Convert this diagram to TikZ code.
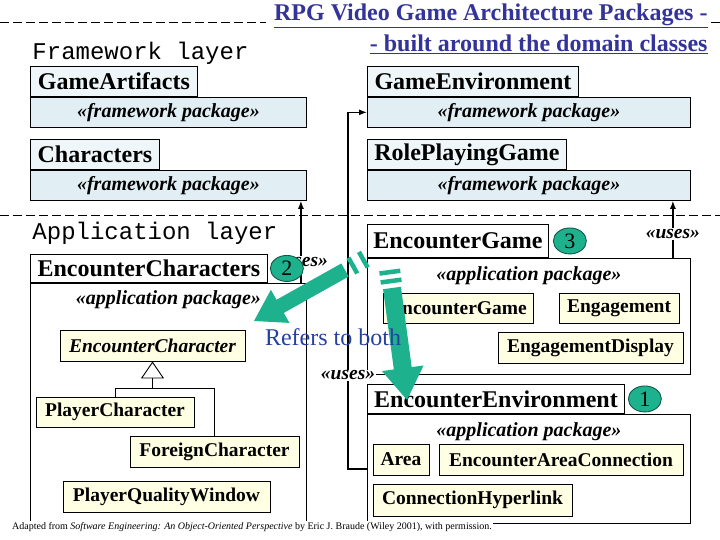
\documentclass[tikz,border=0pt]{standalone}
\usepackage{fontspec}
\setmainfont{Liberation Serif}
\setmonofont{Liberation Mono}
\usepackage{tikz}
\usetikzlibrary{positioning,arrows.meta,calc,shapes.geometric}
\definecolor{rpgBlue}{HTML}{333399}
\definecolor{rpgNote}{HTML}{2440A0}
\definecolor{rpgGreen}{HTML}{1DB28D}
\definecolor{rpgFwTab}{HTML}{EEF6F9}
\definecolor{rpgFwBody}{HTML}{E1EFF5}
\definecolor{rpgClass}{HTML}{FFFFE3}
\tikzset{
  pkgTab/.style={draw, fill=white, anchor=north west, inner sep=0pt, minimum height=29pt, font=\fontsize{24}{25}\selectfont\bfseries},
  pkgTabFw/.style={pkgTab, fill=rpgFwTab, minimum height=30pt},
  fwBody/.style={draw, fill=rpgFwBody, anchor=north west, inner sep=0pt, minimum width=276pt, minimum height=30pt, font=\fontsize{20}{20}\selectfont\bfseries\itshape},
  appBody/.style={draw, fill=white, anchor=north west, inner sep=0pt, minimum width=323pt},
  stereoText/.style={inner sep=1pt, font=\fontsize{20}{20}\selectfont\bfseries\itshape},
  classBox/.style={draw, fill=rpgClass, inner sep=0pt, minimum height=31pt, font=\fontsize{19.5}{20}\selectfont\bfseries},
  abstractClass/.style={classBox, font=\fontsize{19.5}{20}\selectfont\bfseries\itshape},
  usesArrow/.style={-{Latex[length=8pt,width=6pt]}, line width=1.3pt},
  usesLabel/.style={fill=white, inner sep=1pt, font=\fontsize{19.5}{20}\selectfont\bfseries\itshape},
  orderMark/.style={ellipse, draw=rpgGreen!50!black, fill=rpgGreen, minimum width=33pt, minimum height=26pt, inner sep=0pt, font=\fontsize{22}{22}\selectfont},
  layerLine/.style={dash pattern=on 9pt off 4pt},
  layerLabel/.style={anchor=west, inner sep=0pt, font=\fontsize{24}{24}\selectfont\ttfamily},
  titleText/.style={align=right, inner sep=0pt, text=rpgBlue, font=\fontsize{24}{31}\selectfont\bfseries},
  noteText/.style={inner sep=0pt, text=rpgNote, font=\fontsize{24}{24}\selectfont},
  creditText/.style={fill=white, inner sep=1.5pt, font=\fontsize{10}{10}\selectfont}
}

\begin{document}
\begin{tikzpicture}[x=1pt, y=-1pt, line width=0.9pt]
  \useasboundingbox (0,0) rectangle (720,540);

  % layers
  \draw[layerLine] (0,22) -- (266,22);
  \draw[layerLine] (711,22) -- (720,22);
  \draw[layerLine] (0,215) -- (720,215);
  \node[titleText, anchor=north east] (title) at (708,3) {\underline{RPG Video Game Architecture Packages -}\\\underline{- built around the domain classes}};
  \node[layerLabel] (fwLayer) at (32,53) {Framework layer};
  \node[layerLabel] (appLayer) at (32,233) {Application layer};

  % framework packages
  \node[pkgTabFw, minimum width=167pt] (artTab) at (30,66) {GameArtifacts};
  \node[fwBody] (artBody) at (artTab.south west) {«framework package»};
  \node[pkgTabFw, minimum width=211pt] (envFwTab) at (367,66) {GameEnvironment};
  \node[fwBody, minimum width=323pt] (envFwBody) at (envFwTab.south west) {«framework package»};
  \node[pkgTabFw, minimum width=129pt] (charsTab) at (30,139) {Characters};
  \node[fwBody] (charsBody) at (charsTab.south west) {«framework package»};
  \node[pkgTabFw, minimum width=199pt] (rpgTab) at (367,139) {RolePlayingGame};
  \node[fwBody, minimum width=323pt] (rpgBody) at (rpgTab.south west) {«framework package»};

  % application packages
  \node[pkgTab, minimum width=237pt, minimum height=28pt] (encCharTab) at (30,254) {EncounterCharacters};
  \node[appBody, minimum width=276pt, minimum height=240pt] (encCharBody) at (encCharTab.south west) {};
  \node[pkgTab, minimum width=181pt, minimum height=33pt] (encGameTab) at (367,224) {EncounterGame};
  \node[appBody, minimum height=116pt] (encGameBody) at (encGameTab.south west) {};
  \node[pkgTab, minimum width=257pt] (encEnvTab) at (367,384) {EncounterEnvironment};
  \node[appBody, minimum height=109pt] (encEnvBody) at (encEnvTab.south west) {};

  \node[stereoText] (encCharStereo) at ($(encCharBody.north)+(0,17)$) {«application package»};
  \node[stereoText] (encGameStereo) at ($(encGameBody.north)+(0,18)$) {«application package»};
  \node[stereoText] (encEnvStereo) at ($(encEnvBody.north)+(0,18)$) {«application package»};

  % classes
  \node[abstractClass, minimum width=185pt] (encCharClass) at (152.5,345.5) {EncounterCharacter};
  \node[classBox, minimum width=158pt, minimum height=30pt] (playerChar) at (115,412) {PlayerCharacter};
  \node[classBox, minimum width=169pt] (foreignChar) at (214.5,451.5) {ForeignCharacter};
  \node[classBox, minimum width=207pt] (qualityWin) at (166.5,496.5) {PlayerQualityWindow};
  \node[classBox, minimum width=150pt, minimum height=30pt] (gameClass) at (458,308) {EncounterGame};
  \node[classBox, minimum width=120pt, minimum height=30pt] (engagement) at (619,308) {Engagement};
  \node[classBox, minimum width=185pt] (engDisplay) at (590.5,347.5) {EngagementDisplay};
  \node[classBox, minimum width=56pt] (area) at (401,459.5) {Area};
  \node[classBox, minimum width=244pt] (areaConn) at (561,459.5) {EncounterAreaConnection};
  \node[classBox, minimum width=199pt, minimum height=32pt] (hyperlink) at (472.5,500) {ConnectionHyperlink};

  \coordinate (inheritJoin) at ($(encCharClass.south)+(0,27)$);
  \draw (playerChar.north) |- (inheritJoin) -| (foreignChar.north);
  \draw[-{Triangle[open, length=17pt, width=23pt]}] (inheritJoin) -- (encCharClass.south);

  % uses dependencies
  \draw[usesArrow] ([xshift=-6pt]encCharBody.north east) -- node[usesLabel, pos=0.26]{«uses»} ([xshift=-6pt]charsBody.south east);
  \draw[usesArrow] (encEnvBody.west) -- ++(-19,0) |- node[usesLabel, pos=0.131]{«uses»} (envFwBody.west);
  \draw[usesArrow] ([xshift=-18pt]encGameBody.north east) -- node[usesLabel, pos=0.42]{«uses»} ([xshift=-18pt]rpgBody.south east);

  \node[orderMark, right=2pt of encCharTab] (markTwo) {2};
  \node[orderMark, right=4pt of encGameTab] (markThree) {3};
  \node[orderMark, right=3pt of encEnvTab] (markOne) {1};

  % green pointers
  \coordinate (arrowOneTail) at (345,270);
  \coordinate (arrowOneTip) at (254,321);
  \coordinate (arrowTwoTail) at (392,288);
  \coordinate (arrowTwoTip) at (407,400);
  \foreach \tail/\tip/\shaft/\head/\hlen/\gapA/\gapB in {arrowOneTail/arrowOneTip/7.5pt/19pt/30pt/9pt/21pt, arrowTwoTail/arrowTwoTip/9pt/21pt/32pt/7pt/16pt}{
    \coordinate (headBase) at ($(\tip)!\hlen!(\tail)$);
    \fill[rpgGreen] ($(\tail)!\shaft!90:(\tip)$) -- ($(headBase)!\shaft!90:(\tip)$) -- ($(headBase)!\head!90:(\tip)$) -- (\tip)
      -- ($(headBase)!\head!-90:(\tip)$) -- ($(headBase)!\shaft!-90:(\tip)$) -- ($(\tail)!\shaft!-90:(\tip)$) -- cycle;
    \foreach \gap in {\gapA,\gapB}{
      \coordinate (stripeMid) at ($(\tail)!-\gap!(\tip)$);
      \draw[rpgGreen, line width=4.5pt] ($(stripeMid)!\shaft+1.5pt!90:(\tip)$) -- ($(stripeMid)!\shaft+1.5pt!-90:(\tip)$);
    }
  }

  \node[noteText] (referNote) at (333,337) {Refers to both};
  \node[creditText] (credit) at (252,527) {Adapted from \textit{Software Engineering: An Object-Oriented Perspective} by Eric J. Braude (Wiley 2001), with permission.};
\end{tikzpicture}
\end{document}
